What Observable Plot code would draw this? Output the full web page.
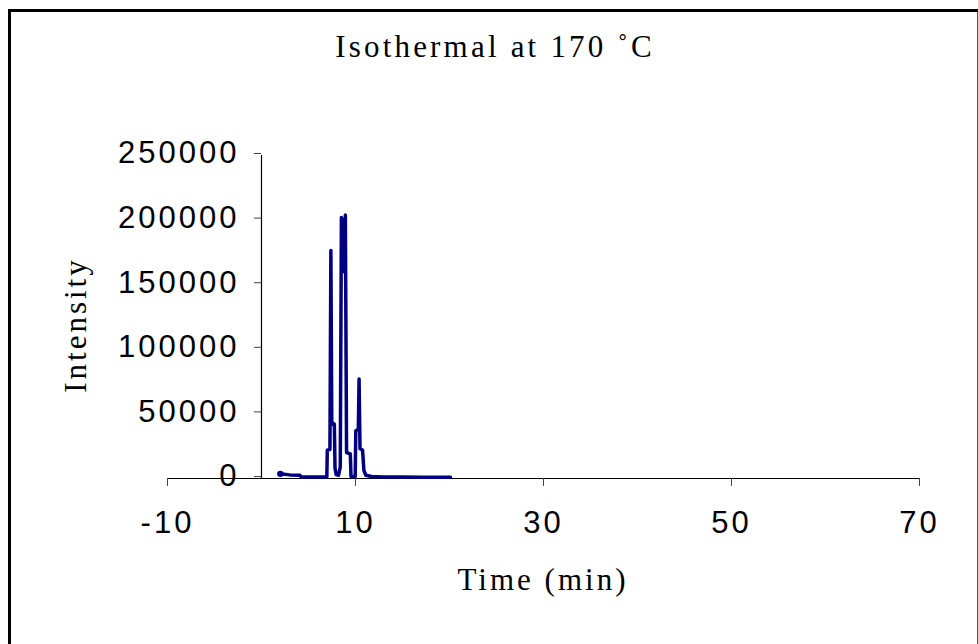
<!DOCTYPE html>
<html>
<head>
<meta charset="utf-8">
<script src="https://cdn.jsdelivr.net/npm/d3@7"></script>
<script src="https://cdn.jsdelivr.net/npm/@observablehq/plot@0.6"></script>
<style>
  html, body { margin: 0; padding: 0; background: #fff; }
  #wrap { position: relative; width: 978px; height: 644px; overflow: hidden; }
  #title { height: 70px; box-sizing: border-box; padding-top: 30px; padding-left: 12px;
    text-align: center; font-family: "Liberation Serif", "Times New Roman", serif;
    font-size: 31px; line-height: 34px; letter-spacing: 3.2px; color: #000; }
  .axlabel { position: absolute; font-family: "Liberation Serif", "Times New Roman", serif;
    font-size: 31px; letter-spacing: 3px; color: #000; white-space: nowrap; line-height: 34px; }
  #border { position: absolute; left: 8px; top: 9px; width: 966px; height: 660px;
    border-left: 3px solid #000; border-top: 3px solid #000; border-right: 2px solid #555;
    pointer-events: none; }
</style>
</head>
<body>
<div id="wrap">
  <div id="title">Isothermal at 170 ˚C</div>
  <div id="chart"></div>
  <div class="axlabel" id="ylabel">Intensity</div>
  <div class="axlabel" id="xlabel">Time (min)</div>
  <div id="border"></div>
</div>
<script>
// ---- data ----
const time = [2.0, 3.0, 4.1, 4.2, 6.95, 7.0, 7.28, 7.38, 7.48, 7.55, 7.75, 7.82, 7.95, 8.2, 8.38, 8.5, 8.65, 8.78, 8.92, 9.05, 9.45, 9.52, 9.97, 10.03, 10.3, 10.38, 10.48, 10.75, 10.9, 11.1, 11.7, 13, 15, 17, 20.1];
const intensity = [3600, 2800, 2500, 1200, 1200, 22000, 22500, 176500, 42000, 43000, 42000, 8000, 3000, 2500, 9000, 202000, 199000, 160000, 204000, 20000, 19000, 1500, 1500, 37000, 38000, 77000, 23000, 22000, 6000, 2500, 1500, 1200, 1100, 1000, 1000];
const xTicks = [-10, 10, 30, 50, 70];
const yTicks = [0, 50000, 100000, 150000, 200000, 250000];
const xDomain = [-10, 70];
const yDomain = [0, 250000];

const data = time.map((t, i) => ({t, v: intensity[i]}));

// ---- layout ----
const W = 978, H = 574;
const ml = 167, mr = 59, mt = 85, mb = 166;
const xs = Plot.scale({x: {domain: xDomain, range: [ml, W - mr]}});
const yAxisShift = xs.apply(0) - ml;

const chart = Plot.plot({
  width: W, height: H,
  marginLeft: ml, marginRight: mr, marginTop: mt, marginBottom: mb,
  style: {fontFamily: "'Liberation Sans', Arial, sans-serif", fontSize: "31px", letterSpacing: "3px", color: "#000", background: "transparent", overflow: "visible"},
  x: {domain: xDomain},
  y: {domain: yDomain},
  marks: [
    Plot.ruleY([0], {stroke: "#000", strokeWidth: 1.2}),
    Plot.ruleX([0], {stroke: "#000", strokeWidth: 1.2}),
    Plot.axisX(xTicks, {tickSize: 8, tickPadding: 24, label: null, stroke: "#444", tickFormat: d => `${d}`}),
    Plot.axisY(yTicks, {anchor: "left", dx: yAxisShift, dy: -2, tickSize: 7, tickPadding: 15, label: null, tickFormat: d => `${d}`, stroke: "#444"}),
    Plot.line(data, {x: "t", y: "v", stroke: "#000080", strokeWidth: 3.5, strokeLinejoin: "round", strokeLinecap: "round"}),
    Plot.dot(data.slice(0, 1), {x: "t", y: "v", r: 3.2, fill: "#000080", stroke: "none"})
  ]
});
document.getElementById("chart").appendChild(chart);

// axis titles placed beside the plot
const yl = document.getElementById("ylabel");
const xl = document.getElementById("xlabel");
yl.style.left = "76px"; yl.style.top = "325px";
yl.style.transform = "translate(-50%, -50%) rotate(-90deg)";
xl.style.left = "543px"; xl.style.top = "580px";
xl.style.transform = "translate(-50%, -50%)";
</script>
</body>
</html>
